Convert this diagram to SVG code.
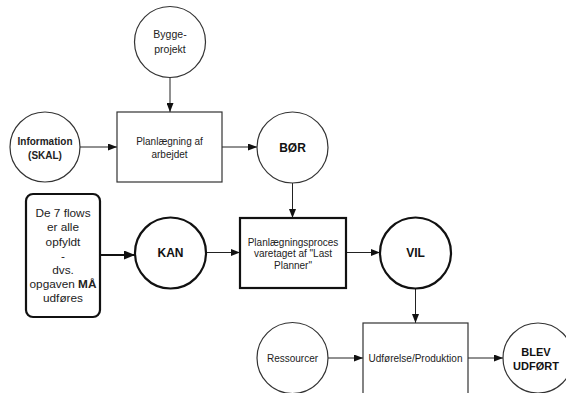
<svg xmlns="http://www.w3.org/2000/svg" width="566" height="393" viewBox="0 0 566 393">
<style>
.n{fill:#fff;stroke:#333;stroke-width:1.2}
.b{fill:#fff;stroke:#111;stroke-width:2.2}
.t{font-family:"Liberation Sans",Arial,sans-serif;font-size:10px;fill:#222;text-anchor:middle}
.tb{font-family:"Liberation Sans",Arial,sans-serif;font-size:12px;font-weight:bold;fill:#111;text-anchor:middle}
.c{stroke:#222;stroke-width:1;fill:none}
.ct{stroke:#111;stroke-width:2.2;fill:none}
</style>
<defs>
<marker id="ah" markerWidth="9" markerHeight="7" refX="9" refY="3.5" orient="auto" markerUnits="userSpaceOnUse"><path d="M0,0 L9,3.5 L0,7 Z" fill="#111"/></marker>
<marker id="ahb" markerWidth="11" markerHeight="9" refX="11" refY="4.5" orient="auto" markerUnits="userSpaceOnUse"><path d="M0,0 L11,4.5 L0,9 Z" fill="#111"/></marker>
</defs>
<rect width="566" height="393" fill="#fff"/>
<g id="connectors">
<line class="c" x1="170" y1="78" x2="170" y2="112" marker-end="url(#ah)"/>
<line class="c" x1="80" y1="147" x2="117" y2="147" marker-end="url(#ah)"/>
<line class="c" x1="222" y1="147" x2="257" y2="147" marker-end="url(#ah)"/>
<line class="c" x1="292.5" y1="183" x2="292.5" y2="218" marker-end="url(#ah)"/>
<line class="ct" x1="100" y1="255" x2="135" y2="255" marker-end="url(#ahb)"/>
<line class="c" x1="206" y1="252.5" x2="240" y2="252.5" marker-end="url(#ah)"/>
<line class="c" x1="346" y1="252.5" x2="380" y2="252.5" marker-end="url(#ah)"/>
<line class="c" x1="415.5" y1="288.5" x2="415.5" y2="323" marker-end="url(#ah)"/>
<line class="c" x1="328" y1="358" x2="363" y2="358" marker-end="url(#ah)"/>
<line class="c" x1="468" y1="358" x2="503" y2="358" marker-end="url(#ah)"/>
</g>
<g id="byggeprojekt">
<circle class="n" cx="170" cy="42" r="35.5"/>
<text class="t" x="170" y="37.5" style="font-size:10.5px">Bygge-</text>
<text class="t" x="170" y="52.5" style="font-size:10.5px">projekt</text>
</g>
<g id="information">
<circle class="n" cx="45" cy="147" r="35"/>
<text class="t" x="45" y="145" font-weight="bold">Information</text>
<text class="t" x="45" y="159" font-weight="bold">(SKAL)</text>
</g>
<g id="planlaegning">
<rect class="n" x="117" y="112" width="105" height="70"/>
<text class="t" x="169.5" y="145">Planlægning af</text>
<text class="t" x="169.5" y="158">arbejdet</text>
</g>
<g id="bor">
<circle class="n" cx="292.5" cy="147.5" r="35.5"/>
<text class="tb" x="292.5" y="151.5">BØR</text>
</g>
<g id="flows">
<rect class="b" x="26" y="194" width="74" height="123" rx="7"/>
<text class="t" x="63" y="217" style="font-size:11.8px">De 7 flows</text>
<text class="t" x="63" y="231" style="font-size:11.8px">er alle</text>
<text class="t" x="63" y="246" style="font-size:11.8px">opfyldt</text>
<text class="t" x="63" y="260" style="font-size:11.8px">-</text>
<text class="t" x="63" y="274" style="font-size:11.8px">dvs.</text>
<text class="t" x="63" y="288" style="font-size:11.8px">opgaven <tspan font-weight="bold">MÅ</tspan></text>
<text class="t" x="63" y="302" style="font-size:11.8px">udføres</text>
</g>
<g id="kan">
<circle class="b" cx="170.5" cy="253" r="35.5"/>
<text class="tb" x="170.5" y="257">KAN</text>
</g>
<g id="lastplanner">
<rect class="b" x="240" y="218" width="106" height="70"/>
<text class="t" x="293" y="245.5">Planlægningsproces</text>
<text class="t" x="293" y="257">varetaget af "Last</text>
<text class="t" x="293" y="268.5">Planner"</text>
</g>
<g id="vil">
<circle class="b" cx="415.5" cy="253" r="35.5"/>
<text class="tb" x="415.5" y="257">VIL</text>
</g>
<g id="ressourcer">
<circle class="n" cx="292.5" cy="358" r="35.5"/>
<text class="t" x="292.5" y="361.5">Ressourcer</text>
</g>
<g id="udforelse">
<rect class="n" x="363" y="323" width="105" height="75"/>
<text class="t" x="415.5" y="361.5">Udførelse/Produktion</text>
</g>
<g id="blevudfort">
<circle class="n" cx="538" cy="358" r="35"/>
<text class="tb" x="536" y="356" style="font-size:11px">BLEV</text>
<text class="tb" x="536" y="369.5" style="font-size:11px">UDFØRT</text>
</g>
</svg>
